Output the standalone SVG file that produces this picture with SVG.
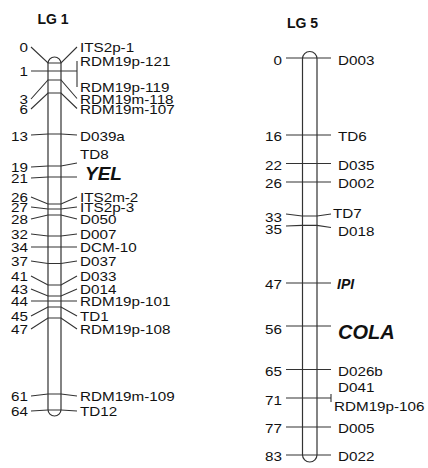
<svg xmlns="http://www.w3.org/2000/svg" width="428" height="468" viewBox="0 0 428 468">
<style>
text{font-family:"Liberation Sans",Arial,sans-serif;font-size:13.6px;fill:#111}
.n text{text-anchor:end}
.t{font-weight:bold;font-size:14px;text-anchor:middle}
.bi{font-weight:bold;font-style:italic}
.chr{fill:#fff;stroke:#333;stroke-width:1.2}
.ln{fill:none;stroke:#333;stroke-width:1.1}
</style>
<rect width="428" height="468" fill="#fff"/>
<g id="lg1">
<text class="t" x="53" y="24">LG 1</text>
<rect class="chr" x="48" y="57" width="13" height="359" rx="6.5"/>
</g>
<g id="lg5">
<text class="t" x="302.5" y="28">LG 5</text>
<rect class="chr" x="302.5" y="51.5" width="14.5" height="410.5" rx="7.2"/>
</g>
<g id="connectors" class="ln">
<path d="M31,47 L48,63 H61 L77,47"/>
<path d="M31,71 H77 M77,61 V87"/>
<path d="M31,99 L48,80 H61 L77,98.5"/>
<path d="M31,109 L48,93 H61 L77,108.5"/>
<path d="M31,135 L48,134 H61 L77,135"/>
<path d="M31,167 L48,166 H61 L77,163"/>
<path d="M31,178 L48,177 H61 L77,177"/>
<path d="M31,197 L48,204 H61 L77,197"/>
<path d="M31,207 L48,209 H61 L77,207"/>
<path d="M31,219 L48,215 H61 L77,219"/>
<path d="M31,234 L48,236 H61 L77,234"/>
<path d="M31,247 L48,247 H61 L77,247"/>
<path d="M31,261 L48,263.5 H61 L77,261"/>
<path d="M31,276 L48,285 H61 L77,276"/>
<path d="M31,289 L48,296 H61 L77,289"/>
<path d="M31,301 L48,301 H61 L77,301"/>
<path d="M31,316 L48,307 H61 L77,316"/>
<path d="M31,329 L48,318 H61 L77,329"/>
<path d="M31,396 L48,394 H61 L77,396"/>
<path d="M31,411 L48,410 H61 L77,411"/>
<path d="M286,58 H331"/>
<path d="M286,135 H331"/>
<path d="M286,163.5 H331"/>
<path d="M286,182 H331"/>
<path d="M286,214 L302,216 H317 L331,214"/>
<path d="M286,226 L302,225.4 H317 L331,227.5"/>
<path d="M286,283 H331"/>
<path d="M286,326 H331"/>
<path d="M286,369.5 H331"/>
<path d="M286,398 H331 M331,394 V402"/>
<path d="M286,427 H331"/>
<path d="M286,455 H331"/>
</g>
<g id="lg1-positions" class="n" transform="translate(28,0) scale(1.12,1)">
<text x="0" y="52.5">0</text>
<text x="0" y="76.5">1</text>
<text x="0" y="104.5">3</text>
<text x="0" y="114.5">6</text>
<text x="0" y="141.5">13</text>
<text x="0" y="172.5">19</text>
<text x="0" y="183.5">21</text>
<text x="0" y="202.5">26</text>
<text x="0" y="212.5">27</text>
<text x="0" y="224.5">28</text>
<text x="0" y="239.5">32</text>
<text x="0" y="252.5">34</text>
<text x="0" y="266.5">37</text>
<text x="0" y="281.5">41</text>
<text x="0" y="294.5">43</text>
<text x="0" y="306.5">44</text>
<text x="0" y="321.5">45</text>
<text x="0" y="334.5">47</text>
<text x="0" y="401.5">61</text>
<text x="0" y="416.5">64</text>
</g>
<g id="lg1-markers" transform="translate(80,0) scale(1.12,1)">
<text x="0" y="52.5">ITS2p-1</text>
<text x="0" y="66.5">RDM19p-121</text>
<text x="0" y="92.5">RDM19p-119</text>
<text x="0" y="104">RDM19m-118</text>
<text x="0" y="114">RDM19m-107</text>
<text x="0" y="141.5">D039a</text>
<text x="0" y="159">TD8</text>
<text x="0" y="202.5">ITS2m-2</text>
<text x="0" y="212.5">ITS2p-3</text>
<text x="0" y="224.5">D050</text>
<text x="0" y="239.5">D007</text>
<text x="0" y="252.5">DCM-10</text>
<text x="0" y="266.5">D037</text>
<text x="0" y="281.5">D033</text>
<text x="0" y="294.5">D014</text>
<text x="0" y="306.5">RDM19p-101</text>
<text x="0" y="321.5">TD1</text>
<text x="0" y="334.5">RDM19p-108</text>
<text x="0" y="401.5">RDM19m-109</text>
<text x="0" y="416.5">TD12</text>
</g>
<g id="lg1-genes">
<text class="bi" x="85" y="180" style="font-size:19px">YEL</text>
</g>
<g id="lg5-positions" class="n" transform="translate(282,0) scale(1.12,1)">
<text x="0" y="65.5">0</text>
<text x="0" y="141.5">16</text>
<text x="0" y="170.5">22</text>
<text x="0" y="188.5">26</text>
<text x="0" y="222.5">33</text>
<text x="0" y="234.5">35</text>
<text x="0" y="289.5">47</text>
<text x="0" y="334">56</text>
<text x="0" y="376.5">65</text>
<text x="0" y="405.5">71</text>
<text x="0" y="433.5">77</text>
<text x="0" y="461.5">83</text>
</g>
<g id="lg5-markers" transform="translate(338,0) scale(1.12,1)">
<text x="0" y="65.5">D003</text>
<text x="0" y="141.5">TD6</text>
<text x="0" y="170.5">D035</text>
<text x="0" y="188.5">D002</text>
<text x="-4.5" y="218">TD7</text>
<text x="0" y="236.5">D018</text>
<text x="0" y="376.5">D026b</text>
<text x="0" y="392.5">D041</text>
<text x="-3.6" y="411.5">RDM19p-106</text>
<text x="0" y="433.5">D005</text>
<text x="0" y="461.5">D022</text>
</g>
<g id="lg5-genes">
<text class="bi" x="337" y="288.5" style="font-size:14px">IPI</text>
<text class="bi" x="338" y="339" style="font-size:20px">COLA</text>
</g>
</svg>
